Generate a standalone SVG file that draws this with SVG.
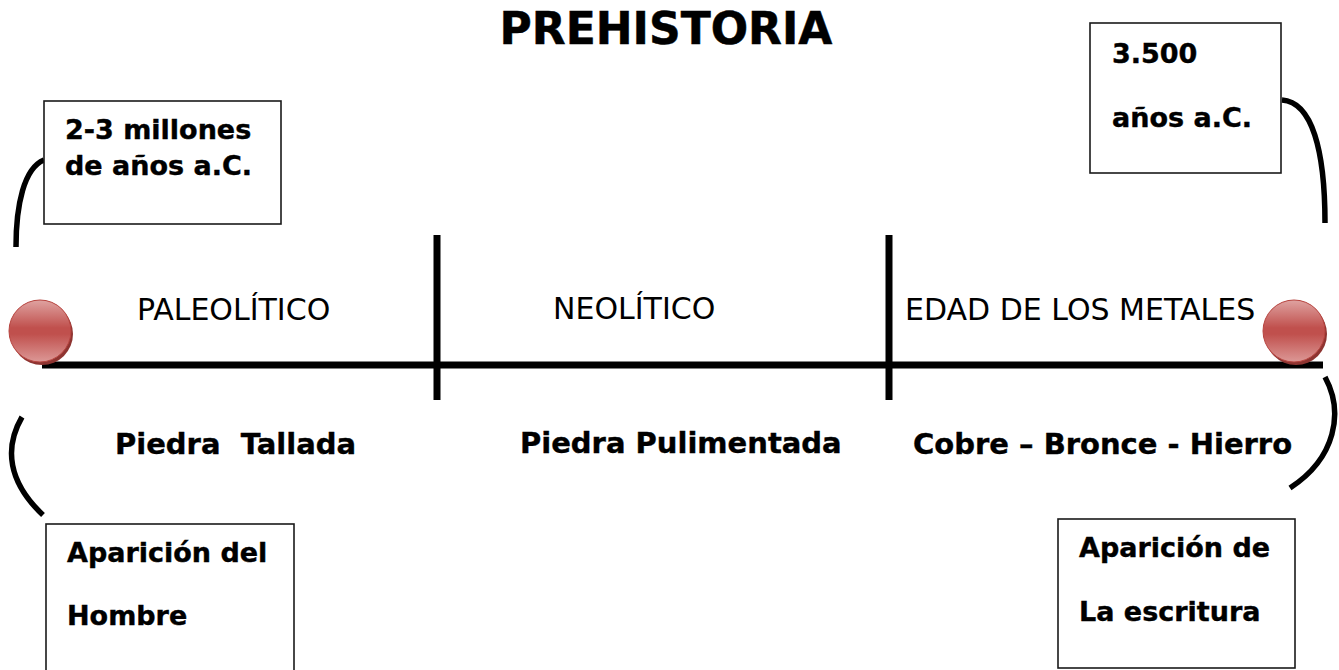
<svg xmlns="http://www.w3.org/2000/svg" width="1339" height="670" viewBox="0 0 1339 670">
<style>
.box{fill:#fff;stroke:#1a1a1a;stroke-width:1.6}
.bt{font-family:"DejaVu Sans",Verdana,sans-serif;font-weight:bold;font-size:27px;fill:#000;stroke:#000;stroke-width:0.4}
.lab{font-family:"DejaVu Sans",Verdana,sans-serif;font-weight:bold;font-size:29px;fill:#000;stroke:#000;stroke-width:0.4}
.era{font-family:"DejaVu Sans",Verdana,sans-serif;font-size:30px;fill:#000}
.title{font-family:"DejaVu Sans",Verdana,sans-serif;font-weight:bold;font-size:44px;fill:#000;stroke:#000;stroke-width:0.5}
.curve{fill:none;stroke:#000;stroke-width:5.5;stroke-linecap:butt}
.axis{stroke:#000;stroke-width:7}
</style>
<defs>
<linearGradient id="ballg" x1="0" y1="0" x2="0" y2="1">
<stop offset="0" stop-color="#dfa3a1"/>
<stop offset="0.45" stop-color="#c0504d"/>
<stop offset="0.55" stop-color="#c0504d"/>
<stop offset="1" stop-color="#dc9896"/>
</linearGradient>
</defs>
<rect width="1339" height="670" fill="#fff"/>
<text class="title" x="666" y="44" text-anchor="middle">PREHISTORIA</text>

<g id="timeline">
<line class="axis" x1="42" y1="365" x2="1323" y2="365"/>
<line class="axis" x1="437" y1="235" x2="437" y2="400"/>
<line class="axis" x1="889" y1="235" x2="889" y2="400"/>
</g>

<g id="connectors">
<path class="curve" d="M16,247 C16,205 24,168 44,160"/>
<path class="curve" d="M1282,100 C1312,102 1325,150 1325,223"/>
<path class="curve" d="M22,417 C4,448 8,482 43,515"/>
<path class="curve" d="M1325,377 C1344,412 1336,458 1290,488"/>
</g>

<g id="ball-left">
<circle cx="42" cy="334" r="31" fill="#8e3431"/>
<circle cx="40" cy="331" r="31" fill="url(#ballg)" stroke="#b7443f" stroke-width="1"/>
</g>
<g id="ball-right">
<circle cx="1296" cy="334" r="31" fill="#8e3431"/>
<circle cx="1294" cy="331" r="31" fill="url(#ballg)" stroke="#b7443f" stroke-width="1"/>
</g>

<g id="era-paleolitico">
<text class="era" x="137" y="320">PALEOLÍTICO</text>
<text class="lab" x="115" y="454" xml:space="preserve">Piedra  Tallada</text>
</g>
<g id="era-neolitico">
<text class="era" x="553" y="319">NEOLÍTICO</text>
<text class="lab" x="520" y="453">Piedra Pulimentada</text>
</g>
<g id="era-metales">
<text class="era" x="905" y="320">EDAD DE LOS METALES</text>
<text class="lab" x="913" y="454">Cobre – Bronce - Hierro</text>
</g>

<g id="box-inicio">
<rect class="box" x="44" y="101" width="237" height="123"/>
<text class="bt" x="65" y="139">2-3 millones</text>
<text class="bt" x="65" y="175">de años a.C.</text>
</g>
<g id="box-fin">
<rect class="box" x="1090" y="23" width="191" height="150"/>
<text class="bt" x="1112" y="63">3.500</text>
<text class="bt" x="1112" y="127">años a.C.</text>
</g>
<g id="box-hombre">
<rect class="box" x="46" y="524" width="248" height="160"/>
<text class="bt" x="67" y="562">Aparición del</text>
<text class="bt" x="67" y="625">Hombre</text>
</g>
<g id="box-escritura">
<rect class="box" x="1058" y="519" width="237" height="149"/>
<text class="bt" x="1079" y="557">Aparición de</text>
<text class="bt" x="1079" y="621">La escritura</text>
</g>
</svg>
